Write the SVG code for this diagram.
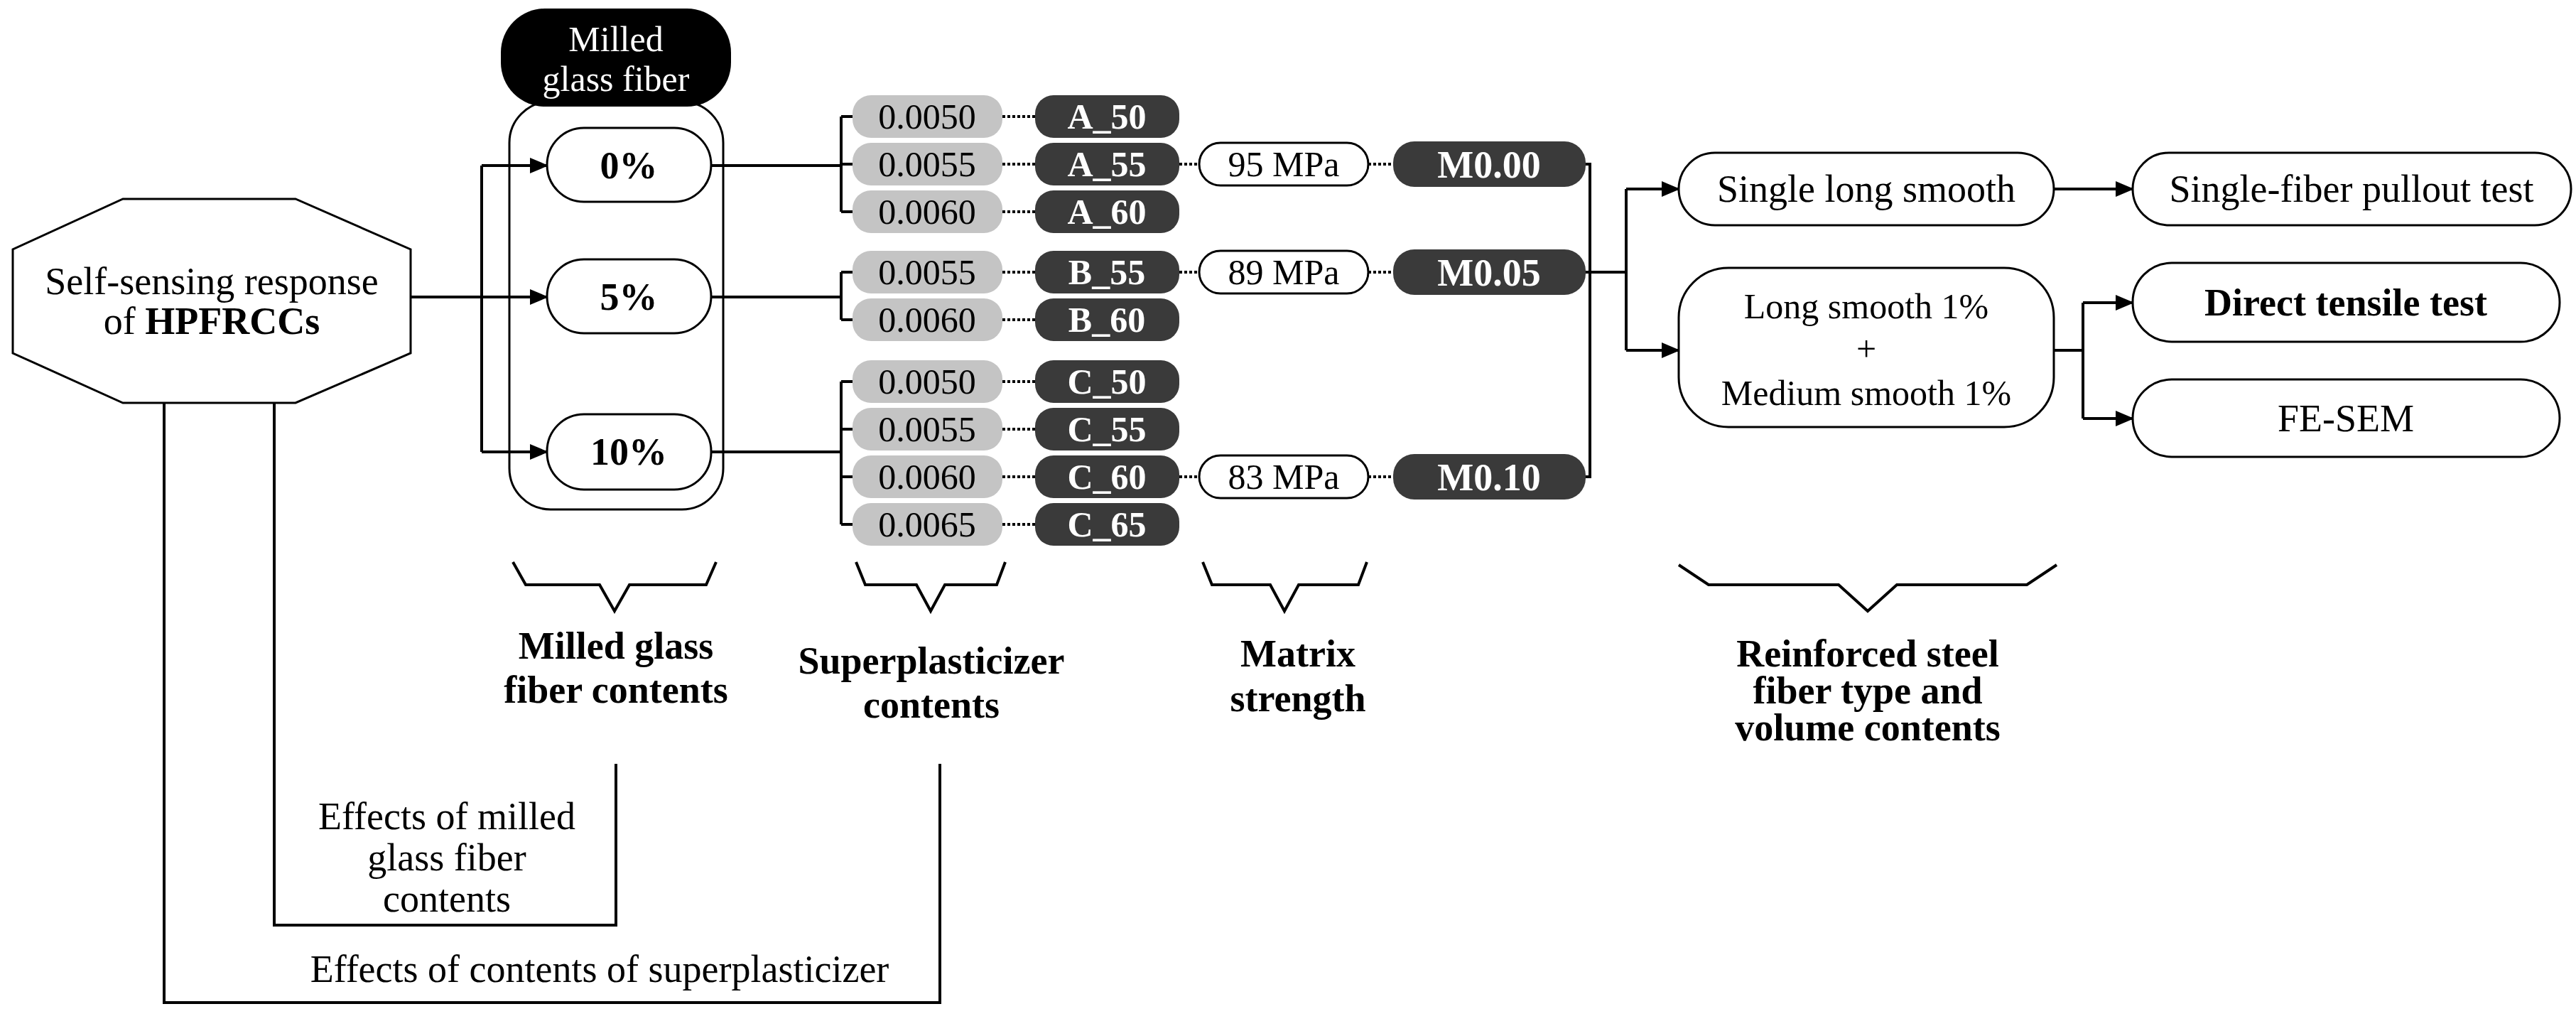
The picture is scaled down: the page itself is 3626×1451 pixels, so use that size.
<svg xmlns="http://www.w3.org/2000/svg" width="3626" height="1451" viewBox="0 0 3626 1451" font-family="'Liberation Serif', 'Times New Roman', 'DejaVu Serif', serif">
<defs>
<marker id="ah" markerWidth="26" markerHeight="26" refX="24" refY="13" orient="auto" markerUnits="userSpaceOnUse" viewBox="0 0 26 26"><path d="M0,2 L26,13 L0,24 z" fill="#000"/></marker>
<style>
text{font-family:'Liberation Serif','Times New Roman','DejaVu Serif',serif;font-size:54px;text-anchor:middle;fill:#000}
.b{font-weight:bold}
.w{fill:#fff}
.s{font-size:50px}
.ln{fill:none;stroke:#000;stroke-width:4}
.dot{fill:none;stroke:#000;stroke-width:4;stroke-dasharray:4 3}
.wp{fill:#fff;stroke:#000;stroke-width:3}
.gp{fill:#c4c4c4}
.dp{fill:#3a3a3a}
.arr{fill:none;stroke:#000;stroke-width:4;marker-end:url(#ah)}
</style>
</defs>
<rect width="3626" height="1451" fill="#fff"/>
<g id="mgf-group">
<rect x="717" y="143" width="301" height="574" rx="58" fill="none" stroke="#000" stroke-width="3"/>
<rect x="705" y="12" width="324" height="138" rx="62" fill="#000"/>
<text class="w s" x="867" y="72">Milled</text>
<text class="w s" x="867" y="128">glass fiber</text>
</g>
<g id="connectors">
<path class="ln" d="M678,233 V636"/>
<path class="arr" d="M578,418 H770"/>
<path class="arr" d="M678,233 H770"/>
<path class="arr" d="M678,636 H770"/>
<path class="ln" d="M231,567 V1411 H1323 V1075"/>
<path class="ln" d="M386,567 V1302 H867 V1075"/>
<path class="ln" d="M1001,233 H1184 M1184,164 V298 M1184,164 H1200 M1184,231 H1200 M1184,298 H1200"/>
<path class="ln" d="M1001,418 H1184 M1184,383 V450 M1184,383 H1200 M1184,450 H1200"/>
<path class="ln" d="M1001,636 H1184 M1184,537 V738 M1184,537 H1200 M1184,604 H1200 M1184,671 H1200 M1184,738 H1200"/>
<path class="dot" d="M1411,164 H1457 M1411,231 H1457 M1411,298 H1457 M1411,383 H1457 M1411,450 H1457 M1411,537 H1457 M1411,604 H1457 M1411,671 H1457 M1411,738 H1457"/>
<path class="dot" d="M1660,231 H1688 M1660,383 H1688 M1660,671 H1688 M1926,231 H1961 M1926,383 H1961 M1926,671 H1961"/>
<path class="ln" d="M2232,231 H2238 V671 H2232 M2232,383 H2289 M2289,266 V493"/>
<path class="arr" d="M2289,266 H2363"/>
<path class="arr" d="M2289,493 H2363"/>
<path class="arr" d="M2891,266 H3002"/>
<path class="ln" d="M2891,493 H2932 M2932,426 V589"/>
<path class="arr" d="M2932,426 H3002"/>
<path class="arr" d="M2932,589 H3002"/>
</g>
<g id="octagon">
<polygon class="wp" points="173,280 416,280 578,351 578,497 416,567 173,567 18,497 18,351"/>
<text x="298" y="414">Self-sensing response</text>
<text x="298" y="470">of <tspan class="b">HPFRCCs</tspan></text>
</g>
<g id="p0"><rect class="wp" x="770" y="180" width="231" height="104" rx="52"/><text class="b" x="885" y="251">0%</text></g>
<g id="p5"><rect class="wp" x="770" y="365" width="231" height="104" rx="52"/><text class="b" x="885" y="436">5%</text></g>
<g id="p10"><rect class="wp" x="770" y="583" width="231" height="106" rx="52"/><text class="b" x="885" y="654">10%</text></g>
<g id="sp">
<rect class="gp" x="1200" y="134" width="211" height="60" rx="26"/><text class="s" x="1305" y="181">0.0050</text>
<rect class="gp" x="1200" y="201" width="211" height="60" rx="26"/><text class="s" x="1305" y="248">0.0055</text>
<rect class="gp" x="1200" y="268" width="211" height="60" rx="26"/><text class="s" x="1305" y="315">0.0060</text>
<rect class="gp" x="1200" y="353" width="211" height="60" rx="26"/><text class="s" x="1305" y="400">0.0055</text>
<rect class="gp" x="1200" y="420" width="211" height="60" rx="26"/><text class="s" x="1305" y="467">0.0060</text>
<rect class="gp" x="1200" y="507" width="211" height="60" rx="26"/><text class="s" x="1305" y="554">0.0050</text>
<rect class="gp" x="1200" y="574" width="211" height="60" rx="26"/><text class="s" x="1305" y="621">0.0055</text>
<rect class="gp" x="1200" y="641" width="211" height="60" rx="26"/><text class="s" x="1305" y="688">0.0060</text>
<rect class="gp" x="1200" y="708" width="211" height="60" rx="26"/><text class="s" x="1305" y="755">0.0065</text>
</g>
<g id="mix">
<rect class="dp" x="1457" y="134" width="203" height="60" rx="26"/><text class="w b s" x="1558" y="181">A_50</text>
<rect class="dp" x="1457" y="201" width="203" height="60" rx="26"/><text class="w b s" x="1558" y="248">A_55</text>
<rect class="dp" x="1457" y="268" width="203" height="60" rx="26"/><text class="w b s" x="1558" y="315">A_60</text>
<rect class="dp" x="1457" y="353" width="203" height="60" rx="26"/><text class="w b s" x="1558" y="400">B_55</text>
<rect class="dp" x="1457" y="420" width="203" height="60" rx="26"/><text class="w b s" x="1558" y="467">B_60</text>
<rect class="dp" x="1457" y="507" width="203" height="60" rx="26"/><text class="w b s" x="1558" y="554">C_50</text>
<rect class="dp" x="1457" y="574" width="203" height="60" rx="26"/><text class="w b s" x="1558" y="621">C_55</text>
<rect class="dp" x="1457" y="641" width="203" height="60" rx="26"/><text class="w b s" x="1558" y="688">C_60</text>
<rect class="dp" x="1457" y="708" width="203" height="60" rx="26"/><text class="w b s" x="1558" y="755">C_65</text>
</g>
<g id="mpa">
<rect class="wp" x="1688" y="201" width="238" height="60" rx="30"/><text class="s" x="1807" y="248">95 MPa</text>
<rect class="wp" x="1688" y="353" width="238" height="60" rx="30"/><text class="s" x="1807" y="400">89 MPa</text>
<rect class="wp" x="1688" y="641" width="238" height="60" rx="30"/><text class="s" x="1807" y="688">83 MPa</text>
</g>
<g id="mlabel">
<rect class="dp" x="1961" y="199" width="271" height="64" rx="30"/><text class="w b" x="2096" y="250">M0.00</text>
<rect class="dp" x="1961" y="351" width="271" height="64" rx="30"/><text class="w b" x="2096" y="402">M0.05</text>
<rect class="dp" x="1961" y="639" width="271" height="64" rx="30"/><text class="w b" x="2096" y="690">M0.10</text>
</g>
<g id="fibers">
<rect class="wp" x="2363" y="215" width="528" height="102" rx="51"/><text x="2627" y="284">Single long smooth</text>
<rect class="wp" x="2363" y="377" width="528" height="224" rx="70"/>
<text class="s" x="2627" y="448">Long smooth 1%</text><text class="s" x="2627" y="508">+</text><text class="s" x="2627" y="570">Medium smooth 1%</text>
</g>
<g id="tests">
<rect class="wp" x="3002" y="215" width="617" height="102" rx="51"/><text x="3310" y="284">Single-fiber pullout test</text>
<rect class="wp" x="3002" y="370" width="601" height="111" rx="55"/><text class="b" x="3302" y="444">Direct tensile test</text>
<rect class="wp" x="3002" y="534" width="601" height="109" rx="55"/><text x="3302" y="607">FE-SEM</text>
</g>
<g id="braces">
<path class="ln" d="M722,791 L740,823 H844 L865,860 L886,823 H994 L1008,791"/>
<path class="ln" d="M1205,791 L1218,823 H1290 L1310,860 L1330,823 H1403 L1415,791"/>
<path class="ln" d="M1693,791 L1706,823 H1788 L1808,860 L1828,823 H1912 L1924,791"/>
<path class="ln" d="M2363,795 L2405,823 H2588 L2629,860 L2670,823 H2853 L2895,795"/>
</g>
<g id="labels">
<text class="b" x="867" y="927">Milled glass</text><text class="b" x="867" y="989">fiber contents</text>
<text class="b" x="1311" y="948">Superplasticizer</text><text class="b" x="1311" y="1010">contents</text>
<text class="b" x="1827" y="938">Matrix</text><text class="b" x="1827" y="1001">strength</text>
<text class="b" x="2629" y="938">Reinforced steel</text><text class="b" x="2629" y="990">fiber type and</text><text class="b" x="2629" y="1042">volume contents</text>
<text x="629" y="1167">Effects of milled</text><text x="629" y="1225">glass fiber</text><text x="629" y="1283">contents</text>
<text x="844" y="1382">Effects of contents of superplasticizer</text>
</g>
</svg>
